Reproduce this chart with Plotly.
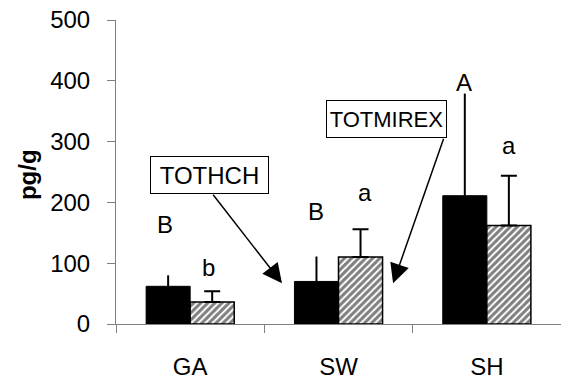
import plotly.graph_objects as go

sites = ["GA", "SW", "SH"]
tothch = [62, 70, 211]
tothch_err = [18, 41, 168]
totmirex = [36, 110, 162]
totmirex_err = [18, 46, 82]
y_ticks = [0, 100, 200, 300, 400, 500]

# significance letters: (x position index, y value, text)
letters_x = [-0.17, 0.124, 0.849, 1.179, 1.847, 2.15]
letters_y = [163, 93, 185, 217, 398, 294]
letters_t = ["B", "b", "B", "a", "A", "a"]

FONT = "Arial, Liberation Sans, sans-serif"
AX = "#808080"
FS = 24

fig = go.Figure()
fig.add_trace(go.Bar(
    x=sites, y=tothch, name="TOTHCH",
    marker=dict(color="black", line=dict(color="black", width=1)),
    error_y=dict(type="data", symmetric=False, array=tothch_err,
                 arrayminus=[0, 0, 0], color="black", thickness=2, width=0),
))
fig.add_trace(go.Bar(
    x=sites, y=totmirex, name="TOTMIREX",
    marker=dict(color="white", line=dict(color="black", width=1.5),
                pattern=dict(shape="/", fgcolor="black", bgcolor="white",
                             size=5, solidity=0.6)),
    error_y=dict(type="data", symmetric=False, array=totmirex_err,
                 arrayminus=[0, 0, 0], color="black", thickness=2, width=8),
))

ann = []
for xx, yy, tt in zip(letters_x, letters_y, letters_t):
    ann.append(dict(x=xx, y=yy, xref="x", yref="y", text=tt, showarrow=False,
                    font=dict(family=FONT, size=FS, color="black"),
                    xanchor="center", yanchor="middle"))

# labelled boxes
ann.append(dict(x=0.13, y=245, xref="x", yref="y", text="TOTHCH", showarrow=False,
                font=dict(family=FONT, size=FS, color="black"),
                bordercolor="black", borderwidth=1, borderpad=2,
                width=113, height=32, bgcolor="white"))
ann.append(dict(x=1.324, y=338, xref="x", yref="y", text="TOTMIREX", showarrow=False,
                font=dict(family=FONT, size=22, color="black"),
                bordercolor="black", borderwidth=1, borderpad=2,
                width=115, height=32, bgcolor="white"))
# arrows
ann.append(dict(x=0.619, y=67, ax=0.147, ay=215, xref="x", yref="y",
                axref="x", ayref="y", text="", showarrow=True,
                arrowhead=2, arrowsize=2.6, arrowwidth=1.5, arrowcolor="black",
                standoff=0, startstandoff=0))
ann.append(dict(x=1.368, y=67, ax=1.712, ay=307, xref="x", yref="y",
                axref="x", ayref="y", text="", showarrow=True,
                arrowhead=2, arrowsize=2.6, arrowwidth=1.5, arrowcolor="black",
                standoff=0, startstandoff=0))
# y-axis title
ann.append(dict(x=-0.2, y=0.49, xref="paper", yref="paper", text="<b>pg/g</b>",
                showarrow=False, textangle=-90, xanchor="center", yanchor="middle",
                font=dict(family=FONT, size=24, color="black")))

fig.update_layout(
    width=561, height=386,
    margin=dict(l=116, r=0, t=20, b=62),
    paper_bgcolor="white", plot_bgcolor="white",
    barmode="group", bargap=0.406, bargroupgap=0,
    showlegend=False,
    annotations=ann,
    font=dict(family=FONT, size=FS, color="black"),
)
fig.update_xaxes(
    type="category", categoryorder="array", categoryarray=sites,
    range=[-0.5, 2.5], showline=True, linecolor=AX, linewidth=1,
    ticks="outside", tickson="boundaries", ticklen=8, tickcolor=AX,
    showgrid=False, zeroline=False, ticklabelstandoff=21,
    tickfont=dict(family=FONT, size=FS, color="black"),
)
fig.update_yaxes(
    range=[0, 500], tickvals=y_ticks, showline=True, linecolor=AX, linewidth=1,
    ticks="outside", ticklen=8, tickcolor=AX, showgrid=False, zeroline=False,
    ticklabelstandoff=12,
    tickfont=dict(family=FONT, size=FS, color="black"),
)

fig.write_html("out.html")
